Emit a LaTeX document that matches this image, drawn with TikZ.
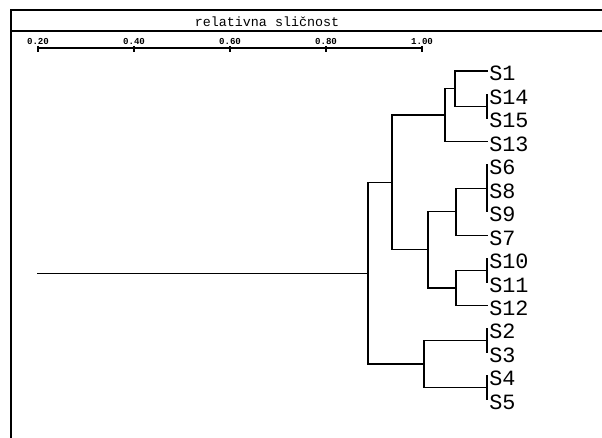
\documentclass[tikz,border=0pt]{standalone}
\usepackage{fontspec}
\setmonofont{Liberation Mono}
\usetikzlibrary{calc,positioning}
\def\leafx{487}
\def\leaftop{71}
\def\leafstep{23.45}
\tikzstyle{branch}               = [line width=0.9pt,line cap=rect]
\tikzstyle{frame}                = [line width=0.9pt]
\tikzstyle{leaf}                 = [anchor=base west,inner sep=0pt,
                                    font=\ttfamily\fontsize{15.5}{16}\selectfont]
\tikzstyle{ticklabel}            = [anchor=base,inner sep=0pt,
                                    font=\ttfamily\bfseries\fontsize{6.5}{7}\selectfont]
\tikzstyle{title}                = [anchor=base,inner sep=0pt,
                                    font=\ttfamily\fontsize{9.5}{10}\selectfont]
% merge two clusters at a given x: name, x, upper child, lower child
\def\merge#1#2#3#4{%
    \path ($(#3)!0.5!(#4)$) coordinate (#1m);
    \coordinate (#1) at (#2,0 |- #1m);
    \draw[branch] (#3) -| (#1) |- (#4);
}

\begin{document}
\begin{tikzpicture}[x=0.025cm,y=-0.025cm]
        \useasboundingbox (0,0) rectangle (602,438);

        % Frame
        \coordinate (tl) at (11,10);
        \coordinate (tr) at (602,10);
        \coordinate (bl) at (11,438);
        \coordinate (hl) at (11,31);
        \coordinate (hr) at (602,31);
        \draw[frame] (tr) -- (tl) -- (bl);
        \draw[frame] (hl) -- (hr);
        \node[title] (head) at (267,27) {relativna sli\v{c}nost};

        % Axis
        \coordinate (ax0) at (38,48);
        \coordinate (ax1) at (420,48);
        \draw[branch] (ax0) -- (ax1);
        \foreach \v [count=\i from 0] in {0.20,0.40,0.60,0.80,1.00} {
            \coordinate (tk\i a) at (38+96*\i,46);
            \coordinate (tk\i b) at (38+96*\i,52);
            \draw[frame] (tk\i a) -- (tk\i b);
            \node[ticklabel] (tl\i) at (38+96*\i,44.5) {\v};
        }

        % Leaves
        \foreach \name [count=\i from 0] in {S1,S14,S15,S13,S6,S8,S9,S7,S10,S11,S12,S2,S3,S4,S5} {
            \coordinate (\name) at (\leafx,\leaftop+\i*\leafstep);
            \node[leaf] (lab\name) at (\leafx+2,\leaftop+\i*\leafstep+10) {\name};
        }

        % Clusters
        \merge{ca}{\leafx}{S14}{S15}
        \merge{cb}{455}{S1}{ca}
        \merge{cc}{445}{cb}{S13}
        \draw[branch] (S6) -- (S9);
        \coordinate (cd) at (S8);
        \merge{ce}{456}{cd}{S7}
        \merge{cf}{\leafx}{S10}{S11}
        \merge{cg}{456}{cf}{S12}
        \merge{ch}{428}{ce}{cg}
        \merge{ci}{392}{cc}{ch}
        \merge{cj}{\leafx}{S2}{S3}
        \merge{ck}{\leafx}{S4}{S5}
        \merge{cl}{424}{cj}{ck}
        \merge{cm}{368}{ci}{cl}

        % Root
        \coordinate (root) at (38,0 |- cm);
        \draw[branch] (cm) -- (root);
\end{tikzpicture}
\end{document}
